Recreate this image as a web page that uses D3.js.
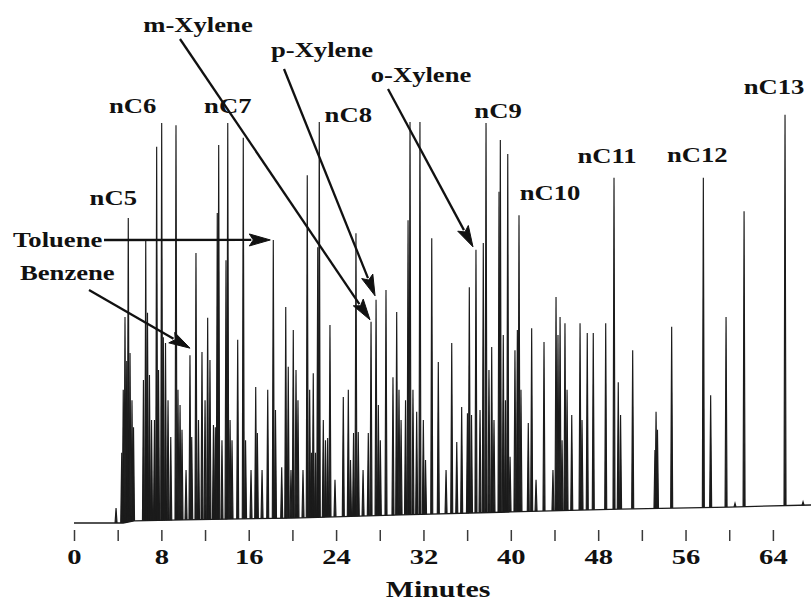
<!DOCTYPE html>
<html>
<head>
<meta charset="utf-8">
<script src="https://cdn.jsdelivr.net/npm/d3@7/dist/d3.min.js"></script>
<style>
  html, body { margin: 0; padding: 0; background: #fff; }
  svg { display: block; }
  text { font-family: "Liberation Serif", "Times New Roman", serif; font-weight: bold; fill: #111; }
</style>
</head>
<body>
<svg id="chart" width="811" height="603"></svg>
<script>
// Peak table of the gas chromatogram: retention time (min) and apex signal
const peakTimes = [
  3.85, 4.37, 4.51, 4.67, 4.83, 4.97, 5.13, 5.31, 5.45, 6.36, 6.57, 6.73, 6.91, 7.10,
  7.37, 7.57, 7.74, 8.03, 8.18, 8.38, 8.61, 8.86, 9.34, 9.52, 9.71, 9.89, 10.26, 10.62,
  10.78, 11.17, 11.40, 11.72, 12.00, 12.24, 12.45, 12.77, 12.94, 13.12, 13.25, 13.55,
  13.92, 14.08, 14.29, 14.47, 14.99, 15.50, 15.71, 16.21, 16.64, 16.79, 17.22, 17.74,
  18.25, 18.45, 19.02, 19.39, 19.62, 19.87, 20.08, 20.33, 20.51, 20.97, 21.36, 21.58,
  21.75, 21.91, 22.11, 22.32, 22.46, 22.83, 23.03, 23.23, 23.44, 23.90, 24.66, 25.12,
  25.32, 25.60, 25.82, 26.03, 26.47, 26.95, 27.20, 27.66, 27.87, 28.05, 28.57, 29.21,
  29.55, 29.76, 29.95, 30.36, 30.59, 30.77, 31.04, 31.38, 31.68, 31.99, 32.19, 32.76,
  33.36, 34.07, 34.59, 35.05, 35.50, 36.03, 36.20, 36.40, 36.81, 37.18, 37.48, 37.73,
  38.00, 38.25, 38.46, 38.92, 39.04, 39.31, 39.51, 39.72, 39.93, 40.38, 40.60, 40.75,
  40.93, 41.60, 41.91, 42.31, 43.04, 43.86, 44.14, 44.32, 44.51, 44.69, 44.96, 45.15,
  45.58, 46.34, 46.52, 47.00, 47.55, 48.69, 49.45, 49.84, 50.05, 51.16, 53.20, 53.30,
  53.43, 54.73, 57.63, 58.30, 59.71, 60.53, 61.36, 65.11, 66.76
];
const peakSignals = [
  3.3, 15.6, 29.6, 45.8, 36.0, 67.8, 37.8, 27.3, 21.3, 31.8, 62.9, 46.7, 32.9, 22.9,
  22.9, 83.6, 34.0, 88.9, 41.3, 40.0, 27.3, 19.1, 88.4, 29.6, 26.2, 20.7, 11.8, 37.3,
  19.1, 60.0, 22.9, 38.0, 27.3, 45.6, 36.2, 21.8, 21.3, 68.9, 84.0, 18.4,
  58.4, 88.9, 22.9, 18.4, 40.7, 85.6, 18.4, 11.8, 30.2, 20.0, 11.8, 29.6,
  62.9, 25.1, 12.4, 48.0, 34.7, 11.8, 42.9, 34.0, 27.3, 11.8, 77.3, 29.6,
  15.6, 33.3, 15.6, 61.3, 89.1, 22.9, 18.4, 18.9, 44.0, 9.6, 28.0, 29.6,
  14.0, 20.0, 64.4, 20.2, 11.8, 20.0, 44.7, 49.6, 26.2, 18.4, 51.8, 32.4,
  46.9, 29.6, 22.9, 27.3, 67.3, 89.1, 29.6, 24.7, 89.1, 22.9, 14.0, 63.3,
  35.8, 11.8, 40.0, 18.0, 25.8, 24.4, 52.4, 24.0, 60.7, 25.1, 62.2, 88.9,
  34.0, 39.1, 22.9, 73.6, 85.1, 41.8, 27.3, 82.0, 14.7, 38.4, 42.9, 68.4,
  29.6, 22.2, 43.3, 9.6, 40.2, 11.8, 50.2, 41.8, 45.8, 18.4, 44.4, 29.6,
  24.0, 44.4, 22.9, 42.2, 42.2, 44.4, 76.7, 31.3, 24.0, 38.4, 16.2, 24.7,
  20.7, 43.6, 76.7, 28.4, 45.8, 4.4, 69.3, 90.7, 4.7
];

// Baseline drift over the temperature program
const baselineTimes  = [0, 4.5, 5.5, 10, 20, 30, 40, 50, 60, 67.5];
const baselineLevels = [0, 0, 0.45, 0.7, 1.1, 1.8, 2.45, 3.1, 3.55, 4.0];

// n-alkane markers
const alkaneNames = ["nC5", "nC6", "nC7", "nC8", "nC9", "nC10", "nC11", "nC12", "nC13"];
const alkaneTimes = [4.97, 8.03, 14.08, 22.46, 37.73, 40.75, 49.45, 57.63, 65.11];

// Aromatic compounds pointed out with arrows
const aromaticNames = ["Toluene", "Benzene", "m-Xylene", "p-Xylene", "o-Xylene"];
const aromaticTimes = [18.25, 10.62, 27.20, 27.66, 36.81];

// Time axis
const tickValues = d3.range(0, 65, 4);
const tickLabels = ["0", "8", "16", "24", "32", "40", "48", "56", "64"];
const axisTitle = "Minutes";

// ---------------------------------------------------------------------------
const svg = d3.select("#chart");
const textStretch = 1.3;          // wide bold serif lettering

const x = d3.scaleLinear().domain([0, 64]).range([74, 772.9]);
const y = d3.scaleLinear().domain([0, 100]).range([523, 73]);
const baseline = d3.scaleLinear().domain(baselineTimes).range(baselineLevels).clamp(true);

const peaks = peakTimes.map((t, i) => ({ t, s: peakSignals[i] }));
const signalAt = t => peaks.find(p => p.t === t).s;

const ink = "#1b1b1b";
const line = d3.line().x(d => d[0]).y(d => d[1]);

// baseline trace
svg.append("path")
  .attr("d", line(baselineTimes.map((t, i) => [x(t), y(baselineLevels[i])])))
  .attr("fill", "none").attr("stroke", ink).attr("stroke-width", 1.3);

// peaks: narrow spikes rising from the baseline
const halfBase = 1.0;
svg.append("g").selectAll("path").data(peaks).join("path")
  .attr("d", p => {
    const px = x(p.t), by = y(baseline(p.t));
    return line([[px - halfBase, by], [px, y(p.s)], [px + halfBase, by]]);
  })
  .attr("fill", ink).attr("stroke", ink).attr("stroke-width", 1.15)
  .attr("stroke-linejoin", "miter");

// time axis
const axis = d3.axisBottom(x)
  .tickValues(tickValues)
  .tickSize(11)
  .tickFormat(d => tickLabels.includes(String(d)) ? String(d) : "");
const gAxis = svg.append("g").attr("transform", "translate(0,530)").call(axis);
gAxis.select(".domain").remove();
gAxis.selectAll(".tick line").attr("stroke", "#3a3a3a").attr("stroke-width", 1.5);
gAxis.selectAll(".tick text")
  .attr("y", 34).attr("dy", 0)
  .attr("font-size", 22)
  .attr("font-family", "Liberation Serif, Times New Roman, serif")
  .attr("font-weight", "bold")
  .attr("fill", "#111")
  .attr("transform", `scale(${textStretch},1)`);

svg.append("text")
  .attr("transform", `translate(438,597) scale(${textStretch},1)`)
  .attr("text-anchor", "middle").attr("font-size", 23)
  .text(axisTitle);

// n-alkane labels, placed relative to their peak apex
const alkaneOffsets = {
  nC5: [-15, -13], nC6: [-29, -10], nC7: [0, -10], nC8: [29, 0], nC9: [12, -5],
  nC10: [31, -15], nC11: [-7, -15], nC12: [-6, -16], nC13: [-11, -21]
};
alkaneNames.forEach((name, i) => {
  const t = alkaneTimes[i];
  const [dx, dy] = alkaneOffsets[name];
  svg.append("text")
    .attr("transform", `translate(${x(t) + dx},${y(signalAt(t)) + dy}) scale(${textStretch},1)`)
    .attr("text-anchor", "middle").attr("font-size", 20.5)
    .text(name);
});

// aromatic labels with arrows to their peaks
const arrowLayout = {
  "Toluene":  { label: [13, 247, "start"],  from: [104, 240], tip: [-3, 0] },
  "Benzene":  { label: [20, 280, "start"],  from: [89, 290],  tip: [0, -7] },
  "m-Xylene": { label: [198, 32, "middle"], from: [180, 39],  tip: [-1, -2] },
  "p-Xylene": { label: [322, 57, "middle"], from: [284, 69],  tip: [-1, -4] },
  "o-Xylene": { label: [421, 82, "middle"], from: [388, 89],  tip: [-3, -3] }
};
const headLen = 21, headHalf = 6;
aromaticNames.forEach((name, i) => {
  const t = aromaticTimes[i];
  const L = arrowLayout[name];
  svg.append("text")
    .attr("transform", `translate(${L.label[0]},${L.label[1]}) scale(${textStretch},1)`)
    .attr("text-anchor", L.label[2]).attr("font-size", 20.5)
    .text(name);
  const tx = x(t) + L.tip[0], ty = y(signalAt(t)) + L.tip[1];
  const [fx, fy] = L.from;
  const len = Math.hypot(tx - fx, ty - fy);
  const ux = (tx - fx) / len, uy = (ty - fy) / len;
  const bx = tx - ux * headLen, by = ty - uy * headLen;
  svg.append("path")
    .attr("d", line([[fx, fy], [bx + ux * 2, by + uy * 2]]))
    .attr("stroke", "#111").attr("stroke-width", 2.3).attr("fill", "none");
  svg.append("path")
    .attr("d", line([[tx, ty], [bx - uy * headHalf, by + ux * headHalf],
                     [bx + ux * 4, by + uy * 4], [bx + uy * headHalf, by - ux * headHalf]]) + "Z")
    .attr("fill", "#111").attr("stroke", "#111").attr("stroke-width", 1);
});
</script>
</body>
</html>
